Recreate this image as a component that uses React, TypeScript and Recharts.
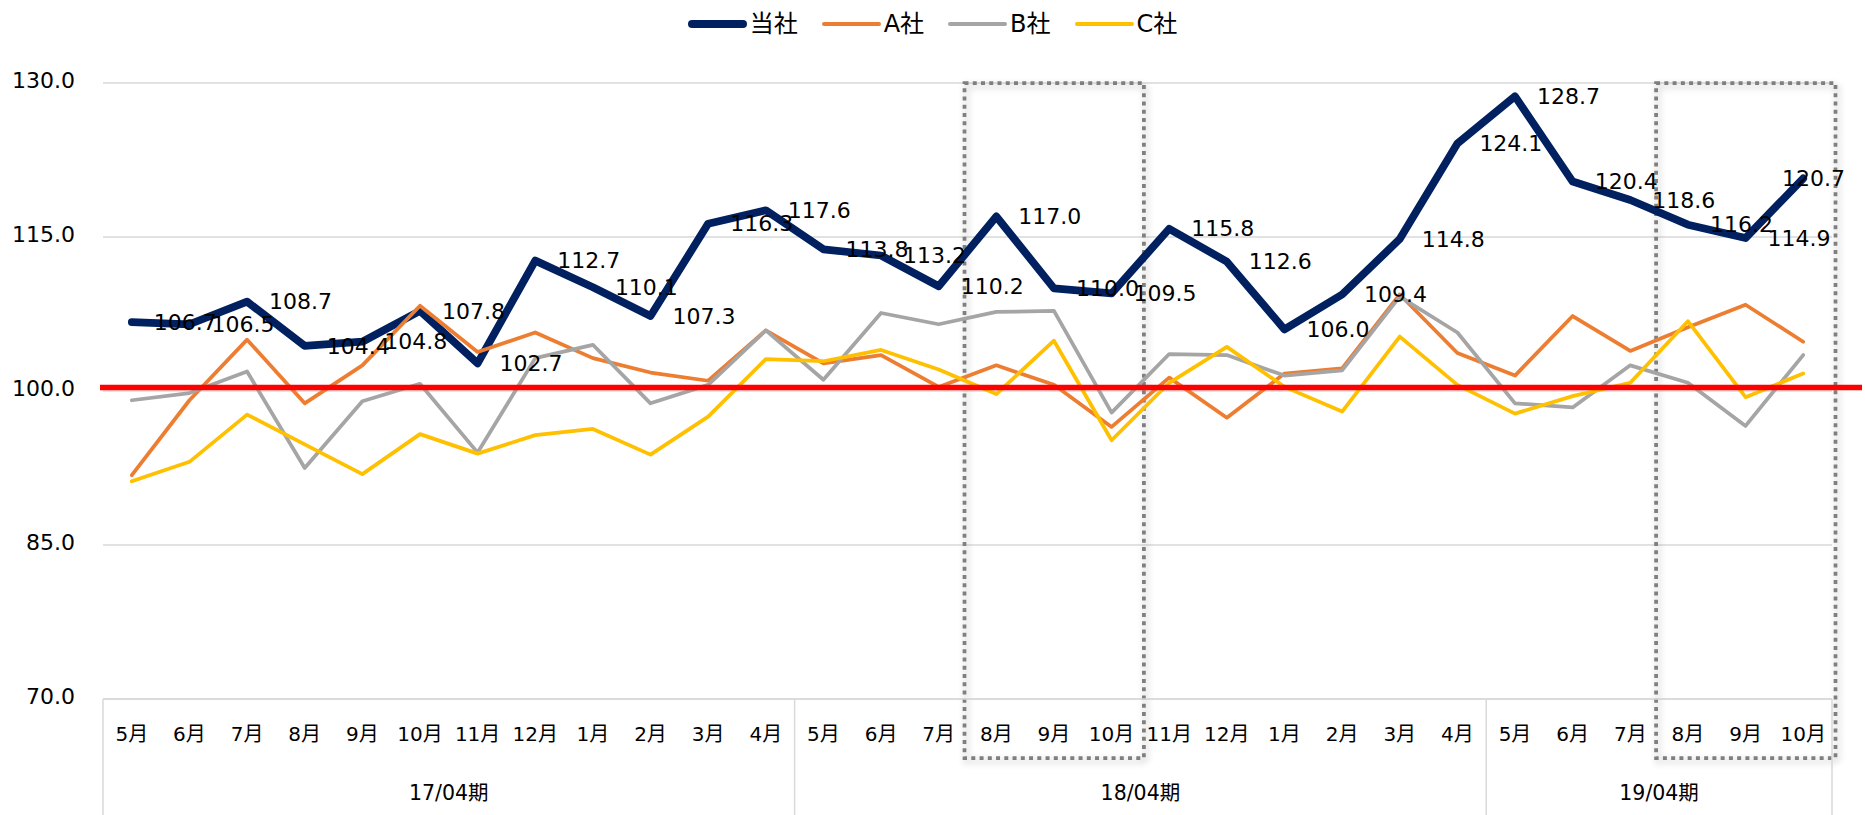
import React from 'react';
import {
  LineChart,
  Line,
  XAxis,
  YAxis,
  CartesianGrid,
  ReferenceLine,
  ReferenceArea,
  LabelList,
} from 'recharts';

const W = 1865;
const H = 815;
const FONT = '"DejaVu Sans", "Noto Sans CJK JP", sans-serif';

// ---- data ----
const MONTHS = [
  '5月', '6月', '7月', '8月', '9月', '10月', '11月', '12月', '1月', '2月', '3月', '4月',
  '5月', '6月', '7月', '8月', '9月', '10月', '11月', '12月', '1月', '2月', '3月', '4月',
  '5月', '6月', '7月', '8月', '9月', '10月',
];
const PERIOD_LABELS = ['17/04期', '18/04期', '19/04期'];
const PERIOD_SIZES = [12, 12, 6];

const TOUSHA = [
  106.7, 106.5, 108.7, 104.4, 104.8, 107.8, 102.7, 112.7, 110.1, 107.3, 116.3, 117.6,
  113.8, 113.2, 110.2, 117.0, 110.0, 109.5, 115.8, 112.6, 106.0, 109.4, 114.8, 124.1,
  128.7, 120.4, 118.6, 116.2, 114.9, 120.7,
];
const A_SHA = [
  91.8, 99.1, 105.0, 98.8, 102.5, 108.3, 103.8, 105.7, 103.2, 101.8, 101.0, 105.9,
  102.7, 103.5, 100.4, 102.5, 100.6, 96.5, 101.3, 97.4, 101.7, 102.2, 109.4, 103.7,
  101.5, 107.3, 103.9, 106.2, 108.4, 104.8,
];
const B_SHA = [
  99.1, 99.8, 101.9, 92.5, 99.0, 100.7, 94.0, 103.2, 104.5, 98.8, 100.6, 105.9,
  101.1, 107.6, 106.5, 107.7, 107.8, 97.9, 103.6, 103.5, 101.5, 102.0, 109.2, 105.7,
  98.8, 98.4, 102.5, 100.8, 96.6, 103.5,
];
const C_SHA = [
  91.2, 93.1, 97.7, 94.8, 91.9, 95.8, 93.9, 95.7, 96.3, 93.8, 97.5, 103.1,
  102.9, 104.0, 102.1, 99.7, 104.9, 95.2, 100.8, 104.3, 100.4, 98.0, 105.3, 100.6,
  97.8, 99.5, 100.8, 106.8, 99.4, 101.7,
];

const Y_TICKS = [70, 85, 100, 115, 130];
const BASELINE = 100;
// highlighted ranges (category index from/to)
const HIGHLIGHTS: [number, number][] = [
  [15, 17],
  [27, 29],
];

const SERIES = [
  { name: '当社', values: TOUSHA, color: '#002060', width: 7.75, legendWidth: 8.5 },
  { name: 'A社', values: A_SHA, color: '#ED7D31', width: 3.75, legendWidth: 4.5 },
  { name: 'B社', values: B_SHA, color: '#A5A5A5', width: 3.75, legendWidth: 4.5 },
  { name: 'C社', values: C_SHA, color: '#FFC000', width: 3.75, legendWidth: 4.5 },
];

const periodOf: number[] = [];
PERIOD_SIZES.forEach((n, p) => {
  for (let i = 0; i < n; i++) periodOf.push(p);
});
const periodStart: number[] = [];
{
  let s = 0;
  PERIOD_SIZES.forEach((n) => {
    periodStart.push(s);
    s += n;
  });
}

const data = MONTHS.map((m, i) => {
  const row: any = { key: `${PERIOD_LABELS[periodOf[i]]}-${m}`, month: m };
  SERIES.forEach((s) => {
    row[s.name] = s.values[i];
  });
  return row;
});

// layout
const MARGIN = { top: 83, right: 33, left: 0, bottom: 0 };
const Y_AXIS_W = 103;
const X_AXIS_H = 116;
const LABEL_LIMIT = W - 20;
const PLOT_W = W - MARGIN.right - Y_AXIS_W;

const XTick = (props: any) => {
  const { x, y, payload, index } = props;
  const i: number = payload && typeof payload.index === 'number' ? payload.index : index;
  const band = PLOT_W / MONTHS.length;
  const els: any[] = [];
  els.push(
    <text
      key="m"
      x={x}
      y={y + 35}
      dy="0.35em"
      textAnchor="middle"
      fontSize={20}
      fontFamily={FONT}
      fill="#000"
    >
      {MONTHS[i]}
    </text>
  );
  const p = periodStart.indexOf(i);
  if (p >= 0) {
    const left = x - band / 2;
    els.push(
      <line key="s" x1={left} x2={left} y1={y} y2={y + X_AXIS_H} stroke="#d9d9d9" strokeWidth={1.5} />
    );
    els.push(
      <text
        key="p"
        x={left + (PERIOD_SIZES[p] * band) / 2}
        y={y + 94}
        dy="0.35em"
        textAnchor="middle"
        fontSize={20.5}
        fontFamily={FONT}
        fill="#000"
      >
        {PERIOD_LABELS[p]}
      </text>
    );
  }
  if (i === MONTHS.length - 1) {
    const right = x + band / 2;
    els.push(
      <line key="e" x1={right} x2={right} y1={y} y2={y + X_AXIS_H} stroke="#d9d9d9" strokeWidth={1.5} />
    );
  }
  return <g>{els}</g>;
};

const YTick = (props: any) => {
  const { x, y, payload } = props;
  return (
    <text x={x} y={y - 3} dy="0.35em" textAnchor="end" fontSize={22} fontFamily={FONT} fill="#000">
      {Number(payload.value).toFixed(1)}
    </text>
  );
};

const renderValueLabel = (props: any) => {
  const x = props.x ?? props.viewBox?.x;
  const y = props.y ?? props.viewBox?.y;
  const value = props.value;
  if (x == null || y == null || value == null) return null;
  const text = Number(value).toFixed(1);
  const approxW = text.length * 13;
  let tx = x + 22;
  let anchor: any = 'start';
  if (tx + approxW > LABEL_LIMIT) {
    tx = LABEL_LIMIT;
    anchor = 'end';
  }
  return (
    <text x={tx} y={y} dy="0.35em" textAnchor={anchor} fontSize={22} fontFamily={FONT} fill="#000">
      {text}
    </text>
  );
};

const RedLine = (props: any) => {
  const { x1, y1 } = props;
  if (x1 == null || y1 == null) return null;
  return (
    <line x1={x1 - 3} x2={W - 3} y1={y1 - 3.5} y2={y1 - 3.5} stroke="#FF0000" strokeWidth={5.5} />
  );
};

const HighlightBox = (props: any) => {
  const { x, y, width, height } = props;
  if (x == null) return null;
  return (
    <rect
      x={x - 3}
      y={y}
      width={width + 6.5}
      height={height + 59}
      fill="none"
      stroke="#7F7F7F"
      strokeWidth={3.75}
      strokeDasharray="4 4.25"
      filter="url(#boxShadow)"
    />
  );
};

const Legend = () => (
  <div
    style={{
      position: 'absolute',
      left: 0,
      top: 0,
      width: W,
      height: 48,
      display: 'flex',
      justifyContent: 'center',
      alignItems: 'center',
      gap: 24,
      fontFamily: FONT,
      fontSize: 24,
      color: '#000',
    }}
  >
    {SERIES.map((s) => (
      <div key={s.name} style={{ display: 'flex', alignItems: 'center' }}>
        <span
          style={{
            display: 'inline-block',
            width: 59,
            height: s.legendWidth,
            background: s.color,
            borderRadius: s.legendWidth / 2,
          }}
        />
        <span style={{ marginLeft: 3, lineHeight: '28px' }}>{s.name}</span>
      </div>
    ))}
  </div>
);

export default function App() {
  return (
    <div style={{ position: 'absolute', left: 0, top: 0, width: W, height: H, background: '#fff' }}>
      <svg width={0} height={0} style={{ position: 'absolute' }}>
        <defs>
          <filter id="boxShadow" x="-10%" y="-10%" width="130%" height="130%">
            <feGaussianBlur in="SourceAlpha" stdDeviation="3.5" />
            <feOffset dx="2" dy="3" result="blur" />
            <feComponentTransfer>
              <feFuncA type="linear" slope="0.3" />
            </feComponentTransfer>
            <feMerge>
              <feMergeNode />
              <feMergeNode in="SourceGraphic" />
            </feMerge>
          </filter>
        </defs>
      </svg>
      <Legend />
      <LineChart width={W} height={H} data={data} margin={MARGIN}>
        <CartesianGrid horizontal vertical={false} stroke="#d9d9d9" strokeWidth={1.5} />
        <XAxis
          dataKey="key"
          type="category"
          scale="band"
          interval={0}
          height={X_AXIS_H}
          tickSize={0}
          tickMargin={0}
          tickLine={false}
          axisLine={{ stroke: '#d9d9d9', strokeWidth: 1.5 }}
          tick={<XTick />}
        />
        <YAxis
          type="number"
          domain={[70, 130]}
          ticks={Y_TICKS}
          interval={0}
          width={Y_AXIS_W}
          axisLine={false}
          tickLine={false}
          tickSize={0}
          tickMargin={28}
          tick={<YTick />}
        />
        {SERIES.map((s) => (
          <Line
            key={s.name}
            type="linear"
            dataKey={s.name}
            stroke={s.color}
            strokeWidth={s.width}
            strokeLinejoin="round"
            strokeLinecap="round"
            dot={false}
            activeDot={false}
            isAnimationActive={false}
          />
        ))}
        <ReferenceLine y={BASELINE} shape={<RedLine />} ifOverflow="visible" />
        <Line
          dataKey="当社"
          stroke="none"
          dot={false}
          activeDot={false}
          legendType="none"
          isAnimationActive={false}
        >
          <LabelList dataKey="当社" content={renderValueLabel} />
        </Line>
        {HIGHLIGHTS.map(([a, b]) => (
          <ReferenceArea
            key={a}
            x1={data[a].key}
            x2={data[b].key}
            y1={70}
            y2={130}
            ifOverflow="visible"
            shape={<HighlightBox />}
          />
        ))}
      </LineChart>
    </div>
  );
}
